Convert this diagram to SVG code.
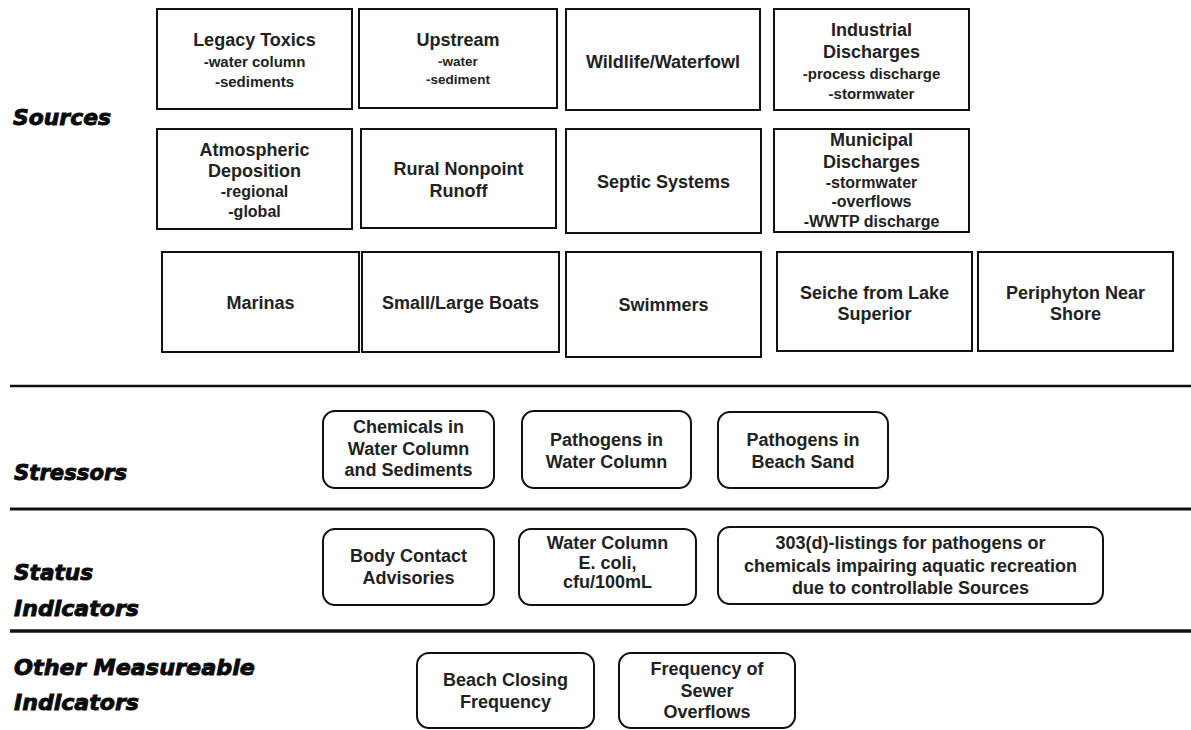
<svg xmlns="http://www.w3.org/2000/svg" width="1191" height="730" viewBox="0 0 1191 730">
  <style>
    .box { fill: #ffffff; stroke: #111111; stroke-width: 2; }
    .rbox { fill: #ffffff; stroke: #111111; stroke-width: 2; }
    .t { font-family: "Liberation Sans", Arial, sans-serif; font-weight: bold; font-size: 18px; fill: #222222; text-anchor: middle; }
    .s15 { font-size: 15px; }
    .s16 { font-size: 16px; }
    .s14 { font-size: 13.5px; }
    .lab { font-family: "DejaVu Sans", "Liberation Sans", sans-serif; font-weight: bold; font-style: italic; font-size: 22px; fill: #0a0a0a; stroke: #0a0a0a; stroke-width: 0.9; }
    .rule { stroke: #111111; fill: none; }
  </style>

  <!-- section labels -->
  <g id="labels">
    <text class="lab" x="13" y="125" textLength="98" lengthAdjust="spacingAndGlyphs">Sources</text>
    <text class="lab" x="14" y="480" textLength="113" lengthAdjust="spacingAndGlyphs">Stressors</text>
    <text class="lab" x="14" y="580" textLength="79" lengthAdjust="spacingAndGlyphs">Status</text>
    <text class="lab" x="14" y="616" textLength="125" lengthAdjust="spacingAndGlyphs">Indicators</text>
    <text class="lab" x="14" y="675" textLength="241" lengthAdjust="spacingAndGlyphs">Other Measureable</text>
    <text class="lab" x="14" y="710" textLength="125" lengthAdjust="spacingAndGlyphs">Indicators</text>
  </g>

  <!-- section dividers -->
  <g id="connectors">
    <line class="rule" x1="10" y1="386" x2="1191" y2="386" stroke-width="2.5"/>
    <line class="rule" x1="10" y1="509" x2="1191" y2="509" stroke-width="3"/>
    <line class="rule" x1="10" y1="631" x2="1191" y2="631" stroke-width="3.5"/>
  </g>

  <!-- Sources, row 1 -->
  <g id="legacy-toxics">
    <rect class="box" x="157" y="9" width="195" height="100"/>
    <text class="t" x="254.5" y="46">Legacy Toxics</text>
    <text class="t s15" x="254.5" y="67">-water column</text>
    <text class="t s15" x="254.5" y="87">-sediments</text>
  </g>
  <g id="upstream">
    <rect class="box" x="359" y="9" width="198" height="99"/>
    <text class="t" x="458" y="46">Upstream</text>
    <text class="t s14" x="458" y="66">-water</text>
    <text class="t s14" x="458" y="84">-sediment</text>
  </g>
  <g id="wildlife">
    <rect class="box" x="566" y="9" width="194" height="101"/>
    <text class="t" x="663" y="68">Wildlife/Waterfowl</text>
  </g>
  <g id="industrial">
    <rect class="box" x="774" y="9" width="195" height="101"/>
    <text class="t" x="871.5" y="36">Industrial</text>
    <text class="t" x="871.5" y="58">Discharges</text>
    <text class="t s15" x="871.5" y="79">-process discharge</text>
    <text class="t s15" x="871.5" y="99">-stormwater</text>
  </g>

  <!-- Sources, row 2 -->
  <g id="atmospheric">
    <rect class="box" x="157" y="129" width="195" height="100"/>
    <text class="t" x="254.5" y="156">Atmospheric</text>
    <text class="t" x="254.5" y="177">Deposition</text>
    <text class="t s16" x="254.5" y="197">-regional</text>
    <text class="t s16" x="254.5" y="217">-global</text>
  </g>
  <g id="rural-nonpoint">
    <rect class="box" x="361" y="129" width="195" height="99"/>
    <text class="t" x="458.5" y="175">Rural Nonpoint</text>
    <text class="t" x="458.5" y="197">Runoff</text>
  </g>
  <g id="septic">
    <rect class="box" x="566" y="129" width="195" height="104"/>
    <text class="t" x="663.5" y="188">Septic Systems</text>
  </g>
  <g id="municipal">
    <rect class="box" x="774" y="129" width="195" height="103"/>
    <text class="t" x="871.5" y="146">Municipal</text>
    <text class="t" x="871.5" y="168">Discharges</text>
    <text class="t s16" x="871.5" y="188">-stormwater</text>
    <text class="t s16" x="871.5" y="207">-overflows</text>
    <text class="t s16" x="871.5" y="227">-WWTP discharge</text>
  </g>

  <!-- Sources, row 3 -->
  <g id="marinas">
    <rect class="box" x="162" y="252" width="197" height="100"/>
    <text class="t" x="260.5" y="309">Marinas</text>
  </g>
  <g id="boats">
    <rect class="box" x="362" y="252" width="197" height="100"/>
    <text class="t" x="460.5" y="309">Small/Large Boats</text>
  </g>
  <g id="swimmers">
    <rect class="box" x="566" y="252" width="195" height="105"/>
    <text class="t" x="663.5" y="311">Swimmers</text>
  </g>
  <g id="seiche">
    <rect class="box" x="777" y="252" width="195" height="99"/>
    <text class="t" x="874.5" y="299">Seiche from Lake</text>
    <text class="t" x="874.5" y="320">Superior</text>
  </g>
  <g id="periphyton">
    <rect class="box" x="978" y="252" width="195" height="99"/>
    <text class="t" x="1075.5" y="299">Periphyton Near</text>
    <text class="t" x="1075.5" y="320">Shore</text>
  </g>

  <!-- Stressors -->
  <g id="chemicals">
    <rect class="rbox" x="323" y="411" width="171" height="77" rx="12"/>
    <text class="t" x="408.5" y="433">Chemicals in</text>
    <text class="t" x="408.5" y="455">Water Column</text>
    <text class="t" x="408.5" y="476">and Sediments</text>
  </g>
  <g id="pathogens-water">
    <rect class="rbox" x="522" y="411" width="169" height="77" rx="12"/>
    <text class="t" x="606.5" y="446">Pathogens in</text>
    <text class="t" x="606.5" y="468">Water Column</text>
  </g>
  <g id="pathogens-sand">
    <rect class="rbox" x="718" y="412" width="170" height="76" rx="12" stroke-width="2.6"/>
    <text class="t" x="803" y="446" fill="#111111">Pathogens in</text>
    <text class="t" x="803" y="468" fill="#111111">Beach Sand</text>
  </g>

  <!-- Status indicators -->
  <g id="body-contact">
    <rect class="rbox" x="323" y="529" width="171" height="76" rx="12"/>
    <text class="t" x="408.5" y="562">Body Contact</text>
    <text class="t" x="408.5" y="584">Advisories</text>
  </g>
  <g id="ecoli">
    <rect class="rbox" x="519" y="529" width="177" height="76" rx="12"/>
    <text class="t" x="607.5" y="549">Water Column</text>
    <text class="t" x="607.5" y="569">E. coli,</text>
    <text class="t" x="607.5" y="588">cfu/100mL</text>
  </g>
  <g id="listings-303d">
    <rect class="rbox" x="718" y="527" width="385" height="77" rx="12"/>
    <text class="t" x="910.5" y="549">303(d)-listings for pathogens or</text>
    <text class="t" x="910.5" y="572">chemicals impairing aquatic recreation</text>
    <text class="t" x="910.5" y="594">due to controllable Sources</text>
  </g>

  <!-- Other measureable indicators -->
  <g id="beach-closing">
    <rect class="rbox" x="417" y="653" width="177" height="75" rx="12"/>
    <text class="t" x="505.5" y="686">Beach Closing</text>
    <text class="t" x="505.5" y="708">Frequency</text>
  </g>
  <g id="sewer-overflows">
    <rect class="rbox" x="619" y="653" width="176" height="75" rx="12"/>
    <text class="t" x="707" y="675">Frequency of</text>
    <text class="t" x="707" y="697">Sewer</text>
    <text class="t" x="707" y="718">Overflows</text>
  </g>
</svg>
